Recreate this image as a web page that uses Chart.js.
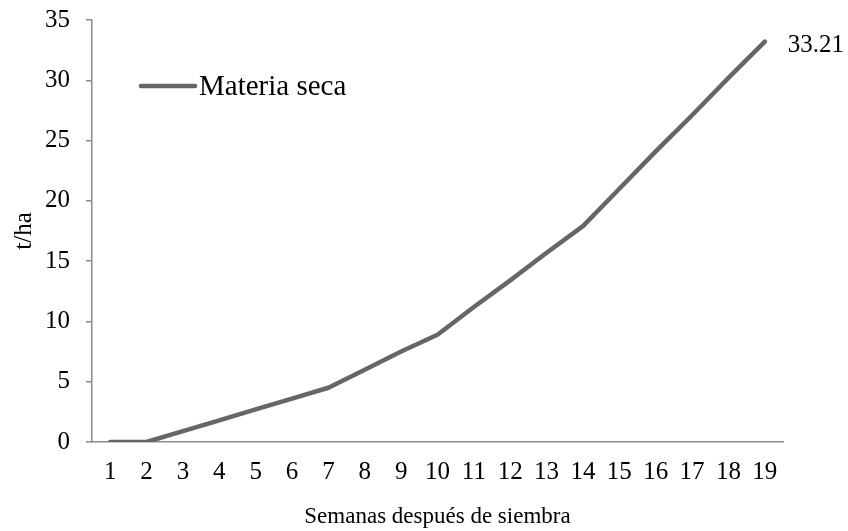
<!DOCTYPE html>
<html>
<head>
<meta charset="utf-8">
<script src="https://cdn.jsdelivr.net/npm/chart.js@4"></script>
<style>
  html, body { margin: 0; padding: 0; background: #ffffff; }
  #wrap { width: 848px; height: 531px; }
</style>
</head>
<body>
<div id="wrap"><canvas id="c" width="848" height="531"></canvas></div>
<script>
const semanas = ['1','2','3','4','5','6','7','8','9','10','11','12','13','14','15','16','17','18','19'];
const materiaSeca = [0, 0, 0.9, 1.8, 2.7, 3.6, 4.5, 6.0, 7.5, 8.9, 11.2, 13.4, 15.7, 17.9, 21.0, 24.1, 27.1, 30.2, 33.21];
const serieNombre = 'Materia seca';
const ejeX = 'Semanas después de siembra';
const ejeY = 't/ha';
const yTicks = [0, 5, 10, 15, 20, 25, 30, 35];

const FONT = '"Liberation Serif", "Times New Roman", serif';
const LINE_COLOR = '#666666';
const AXIS_COLOR = '#8c8c8c';

const overlay = {
  id: 'overlay',
  afterDatasetsDraw(chart) {
    const ctx = chart.ctx;
    const ds = chart.data.datasets[0];
    const meta = chart.getDatasetMeta(0);
    ctx.save();
    // legend
    ctx.strokeStyle = ds.borderColor;
    ctx.lineWidth = 4.5;
    ctx.lineCap = 'round';
    ctx.beginPath();
    ctx.moveTo(141, 86);
    ctx.lineTo(195, 86);
    ctx.stroke();
    ctx.fillStyle = '#000';
    ctx.font = '29px ' + FONT;
    ctx.textBaseline = 'middle';
    ctx.textAlign = 'left';
    ctx.fillText(ds.label, 199, 87);
    // data label on last point
    const last = meta.data[meta.data.length - 1];
    const v = ds.data[ds.data.length - 1];
    ctx.font = '25px ' + FONT;
    ctx.fillText(v.toFixed(2), last.x + 23, last.y + 4);
    ctx.restore();
  }
};

new Chart(document.getElementById('c'), {
  type: 'line',
  data: {
    labels: semanas,
    datasets: [{
      label: serieNombre,
      data: materiaSeca,
      borderColor: LINE_COLOR,
      backgroundColor: LINE_COLOR,
      borderWidth: 4.5,
      borderCapStyle: 'round',
      borderJoinStyle: 'round',
      pointRadius: 0,
      pointHoverRadius: 0,
      tension: 0,
      fill: false
    }]
  },
  options: {
    responsive: false,
    devicePixelRatio: 1,
    animation: false,
    events: [],
    layout: { padding: { top: 20, right: 65, left: 0, bottom: 0 } },
    plugins: {
      legend: { display: false },
      tooltip: { enabled: false },
      title: { display: false }
    },
    scales: {
      x: {
        type: 'category',
        offset: true,
        grid: { display: false, drawTicks: false },
        border: { display: true, color: AXIS_COLOR, width: 1.5 },
        ticks: {
          color: '#000',
          font: { family: FONT, size: 25 },
          padding: 15,
          maxRotation: 0,
          autoSkip: false
        },
        title: {
          display: true,
          text: ejeX,
          color: '#000',
          font: { family: FONT, size: 23 },
          padding: { top: 0, bottom: 0 }
        },
        afterFit(scale) { scale.height = 89; scale.paddingLeft = 0; scale.paddingRight = 0; }
      },
      y: {
        type: 'linear',
        min: 0,
        max: 35,
        afterBuildTicks(scale) { scale.ticks = yTicks.map(v => ({ value: v })); },
        grid: { display: true, drawOnChartArea: false, drawTicks: true, tickLength: 6, color: AXIS_COLOR, lineWidth: 1.5 },
        border: { display: true, color: AXIS_COLOR, width: 1.5 },
        ticks: {
          color: '#000',
          font: { family: FONT, size: 25 },
          padding: 16
        },
        title: {
          display: true,
          text: ejeY,
          color: '#000',
          font: { family: FONT, size: 25 },
          padding: { top: 9, bottom: 0 }
        },
        afterFit(scale) { scale.width = 92; scale.paddingTop = 0; scale.paddingBottom = 0; }
      }
    }
  },
  plugins: [overlay]
});
</script>
</body>
</html>
